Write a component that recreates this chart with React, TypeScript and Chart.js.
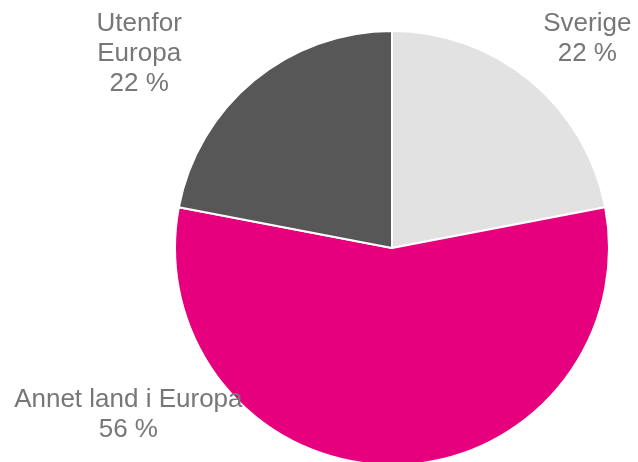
import React, { useEffect, useRef } from "react";
import { Chart, registerables } from "chart.js";

Chart.register(...registerables);

const categories = ["Sverige", "Annet land i Europa", "Utenfor Europa"];
const labelLines = [["Sverige", "22 %"], ["Annet land i Europa", "56 %"], ["Utenfor", "Europa", "22 %"]];
const values = [22, 56, 22];
const colors = ["#e2e2e2", "#e6007e", "#575757"];
// label anchor offsets relative to pie centre, in units of radius
const labelOffsets = [
  [0.9, -0.93],
  [-1.215, 0.8],
  [-1.165, -0.86],
];

const labelPlugin = {
  id: "outsideLabels",
  afterDatasetsDraw(chart: any) {
    const ctx = chart.ctx;
    const meta = chart.getDatasetMeta(0);
    const lineH = 30;
    ctx.save();
    ctx.font = "26px 'Liberation Sans', Arial, sans-serif";
    ctx.fillStyle = "#777777";
    ctx.textAlign = "center";
    ctx.textBaseline = "alphabetic";
    meta.data.forEach((arc: any, i: number) => {
      const { x, y, outerRadius } = arc.getProps(["x", "y", "outerRadius"], true);
      const cx = x + labelOffsets[i][0] * outerRadius;
      const cy = y + labelOffsets[i][1] * outerRadius;
      const lines = labelLines[i];
      const start = cy - ((lines.length - 1) * lineH) / 2;
      lines.forEach((t, j) => ctx.fillText(t, cx, start + j * lineH));
    });
    ctx.restore();
  },
};

export default function App() {
  const ref = useRef<HTMLCanvasElement>(null);
  useEffect(() => {
    if (!ref.current) return;
    const chart = new Chart(ref.current, {
      type: "pie",
      data: {
        labels: categories,
        datasets: [
          {
            data: values,
            backgroundColor: colors,
            borderColor: "#ffffff",
            borderWidth: 2,
          },
        ],
      },
      options: {
        responsive: false,
        animation: false,
        layout: { padding: { top: 30, bottom: 4, left: 174, right: 28 } },
        plugins: {
          legend: { display: false },
          tooltip: { enabled: false },
        },
      },
      plugins: [labelPlugin],
    });
    return () => chart.destroy();
  }, []);
  return (
    <div style={{ position: "fixed", left: 0, top: 0, width: 638, height: 462, overflow: "hidden", background: "#fff" }}>
      <canvas ref={ref} width={638} height={470} style={{ display: "block" }} />
    </div>
  );
}
